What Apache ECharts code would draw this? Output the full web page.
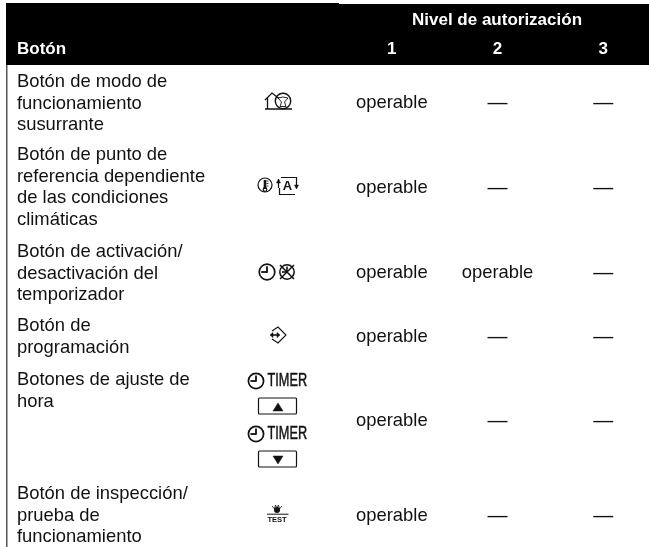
<!DOCTYPE html>
<html>
<head>
<meta charset="utf-8">
<style>html,body{margin:0;padding:0;background:#fff}#main{width:649px;height:547px}</style>
<script src="https://cdn.jsdelivr.net/npm/echarts@6/dist/echarts.min.js"></script>
</head>
<body>
<div id="main"></div>
<script>
// datos de la tabla
var levels = ['1', '2', '3'];
var groupTitle = 'Nivel de autorización';
var firstColumn = 'Botón';
var buttons = [
    ['Botón de modo de', 'funcionamiento', 'susurrante'],
    ['Botón de punto de', 'referencia dependiente', 'de las condiciones', 'climáticas'],
    ['Botón de activación/', 'desactivación del', 'temporizador'],
    ['Botón de', 'programación'],
    ['Botones de ajuste de', 'hora'],
    ['Botón de inspección/', 'prueba de', 'funcionamiento']
];
var level1 = ['operable', 'operable', 'operable', 'operable', 'operable', 'operable'];
var level2 = ['—', '—', 'operable', '—', '—', '—'];
var level3 = ['—', '—', '—', '—', '—', '—'];

// maquetación: la tabla no tiene filas regulares
var rowCenterY = [103, 188, 273, 337, 421, 516];
var rowFirstLineY = [82, 155, 252, 326, 380, 494];
var lineHeight = 21.5;
var FONT = '"Liberation Sans", Arial, sans-serif';

var cells = [];
[level1, level2, level3].forEach(function (col, c) {
    col.forEach(function (v, r) { cells.push([c, r, v]); });
});

var ink = '#111';
function stroke(w) { return { stroke: ink, lineWidth: w || 1.2, fill: 'none' }; }
function line(x1, y1, x2, y2, w) {
    return { type: 'line', shape: { x1: x1, y1: y1, x2: x2, y2: y2 }, style: stroke(w) };
}
function circle(cx, cy, r, w) {
    return { type: 'circle', shape: { cx: cx, cy: cy, r: r }, style: stroke(w) };
}
function poly(points, closed, w, fill) {
    var s = stroke(w);
    if (fill) { s.fill = ink; }
    return { type: closed ? 'polygon' : 'polyline', shape: { points: points }, style: s };
}
function txt(x, y, text, size, weight, color, align, extra) {
    var el = {
        type: 'text',
        x: x, y: y,
        style: {
            text: text, x: 0, y: 0, fill: color || '#111',
            font: (weight || 'normal') + ' ' + size + 'px ' + FONT,
            textAlign: align || 'left', textVerticalAlign: 'middle'
        }
    };
    if (extra) { for (var k in extra) { el[k] = extra[k]; } }
    return el;
}
function clock(cx, cy, r) {
    return [circle(cx, cy, r, 1.7), line(cx, cy - r + 2, cx, cy + 0.8, 1.8), line(cx - r + 2, cy, cx, cy, 1.8)];
}
function timerButton(y, up) {
    var tri = up ? [[273, y + 30], [283, y + 30], [278, y + 22]] : [[273, y + 22], [283, y + 22], [278, y + 30]];
    var label = txt(267.5, y, 'TIMER', 19, 'normal', ink, 'left', { scaleX: 0.67 });
    label.style.stroke = ink;
    label.style.lineWidth = 0.5;
    return clock(256, y, 7.6).concat([
        label,
        { type: 'rect', shape: { x: 258.5, y: y + 17, width: 38, height: 16, r: 1 }, style: stroke(1.2) },
        poly(tri, true, 0.5, true)
    ]);
}

var icons = [].concat(
    // susurrante
    [
        poly([[265, 100], [272, 93], [279, 98.5]], false, 1.3),
        line(267.5, 98, 267.5, 109, 1.3),
        line(265, 109, 292, 109, 1.5),
        circle(283, 101, 7.7, 1.4),
        poly([[281.5, 102], [278, 98], [283, 97], [288, 98], [284.5, 102], [286, 106.5], [280, 106.5]], true, 0.9)
    ],
    // punto de referencia
    [
        circle(265, 185, 7, 1.2),
        line(265, 180, 265, 189, 2.6),
        circle(265, 189.5, 1.8, 1.2),
        line(266.5, 181, 268.5, 181, 0.8), line(266.5, 183.5, 268.5, 183.5, 0.8), line(266.5, 186, 268.5, 186, 0.8),
        poly([[281, 177.5], [296.5, 177.5], [296.5, 187]], false, 1.2),
        poly([[294.5, 185], [296.5, 189], [298.5, 185]], true, 0.5, true),
        poly([[295, 194.5], [279.5, 194.5], [279.5, 188]], false, 1.2),
        line(278.5, 179, 278.5, 188, 1.2),
        poly([[276.5, 183], [278.5, 179], [280.5, 183]], true, 0.5, true),
        txt(287.5, 186, 'A', 13, 'bold', ink, 'center')
    ],
    // temporizador
    clock(267, 272, 7.8),
    [
        circle(287, 272, 7.2, 1.5),
        line(280, 265, 294, 279, 1.5), line(294, 265, 280, 279, 1.5),
        line(287, 266.5, 287, 272, 1.6), line(282, 272, 287, 272, 1.6)
    ],
    // programación
    [
        poly([[272, 331], [278, 327], [286, 335], [278, 343], [272, 339]], false, 1.1),
        line(271.5, 335, 278.5, 335, 1.6),
        poly([[270, 335], [273, 332.5], [273, 337.5]], true, 0.5, true),
        poly([[280, 335], [277, 332.5], [277, 337.5]], true, 0.5, true)
    ],
    // ajuste de hora
    timerButton(381, true),
    timerButton(434, false),
    // prueba
    [
        { type: 'circle', shape: { cx: 277, cy: 510, r: 3 }, style: { fill: ink } },
        poly([[272, 506], [274.5, 509], [275.5, 505], [277, 508], [278.5, 505], [279.5, 509], [282, 506]], false, 0.8),
        line(267, 514.2, 288.5, 514.2, 1),
        txt(277, 520, 'TEST', 7.5, 'bold', ink, 'center')
    ]
);

var labels = [];
buttons.forEach(function (lines, r) {
    lines.forEach(function (t, i) {
        labels.push(txt(17, rowFirstLineY[r] + i * lineHeight, t, 18.4));
    });
});

var frame = [
    { type: 'rect', z: -2, shape: { x: 6, y: 3, width: 333, height: 62 }, style: { fill: '#000' } },
    { type: 'rect', z: -2, shape: { x: 339, y: 4, width: 310, height: 61 }, style: { fill: '#000' } },
    { type: 'rect', z: -2, shape: { x: 6, y: 65, width: 1.5, height: 482 }, style: { fill: '#555' } },
    txt(17, 49, firstColumn, 17, 'bold', '#fff'),
    txt(497, 20, groupTitle, 17, 'bold', '#fff', 'center')
];

var chart = echarts.init(document.getElementById('main'), null, { renderer: 'canvas' });
chart.setOption({
    animation: false,
    backgroundColor: '#fff',
    textStyle: { fontFamily: FONT },
    grid: { left: 339, top: 65, width: 317, height: 482, outerBoundsMode: 'none' },
    xAxis: {
        type: 'category',
        position: 'top',
        data: levels,
        axisLine: { show: false },
        axisTick: { show: false },
        axisLabel: { color: '#fff', fontWeight: 'bold', fontSize: 17, margin: 7 }
    },
    yAxis: { type: 'value', min: 0, max: 1, inverse: true, show: false },
    series: [{
        type: 'custom',
        silent: true,
        data: cells,
        encode: { x: 0, y: 1 },
        renderItem: function (params, api) {
            var x = api.coord([api.value(0), 0])[0];
            var y = rowCenterY[api.value(1)];
            var v = cells[params.dataIndex][2];
            var dash = v === '—';
            return {
                type: 'text',
                style: {
                    x: x, y: y, text: v, fill: '#111',
                    font: (dash ? 20 : 18.4) + 'px ' + FONT,
                    textAlign: 'center', textVerticalAlign: 'middle'
                }
            };
        }
    }],
    graphic: { elements: frame.concat(labels, icons) }
});
</script>
</body>
</html>
